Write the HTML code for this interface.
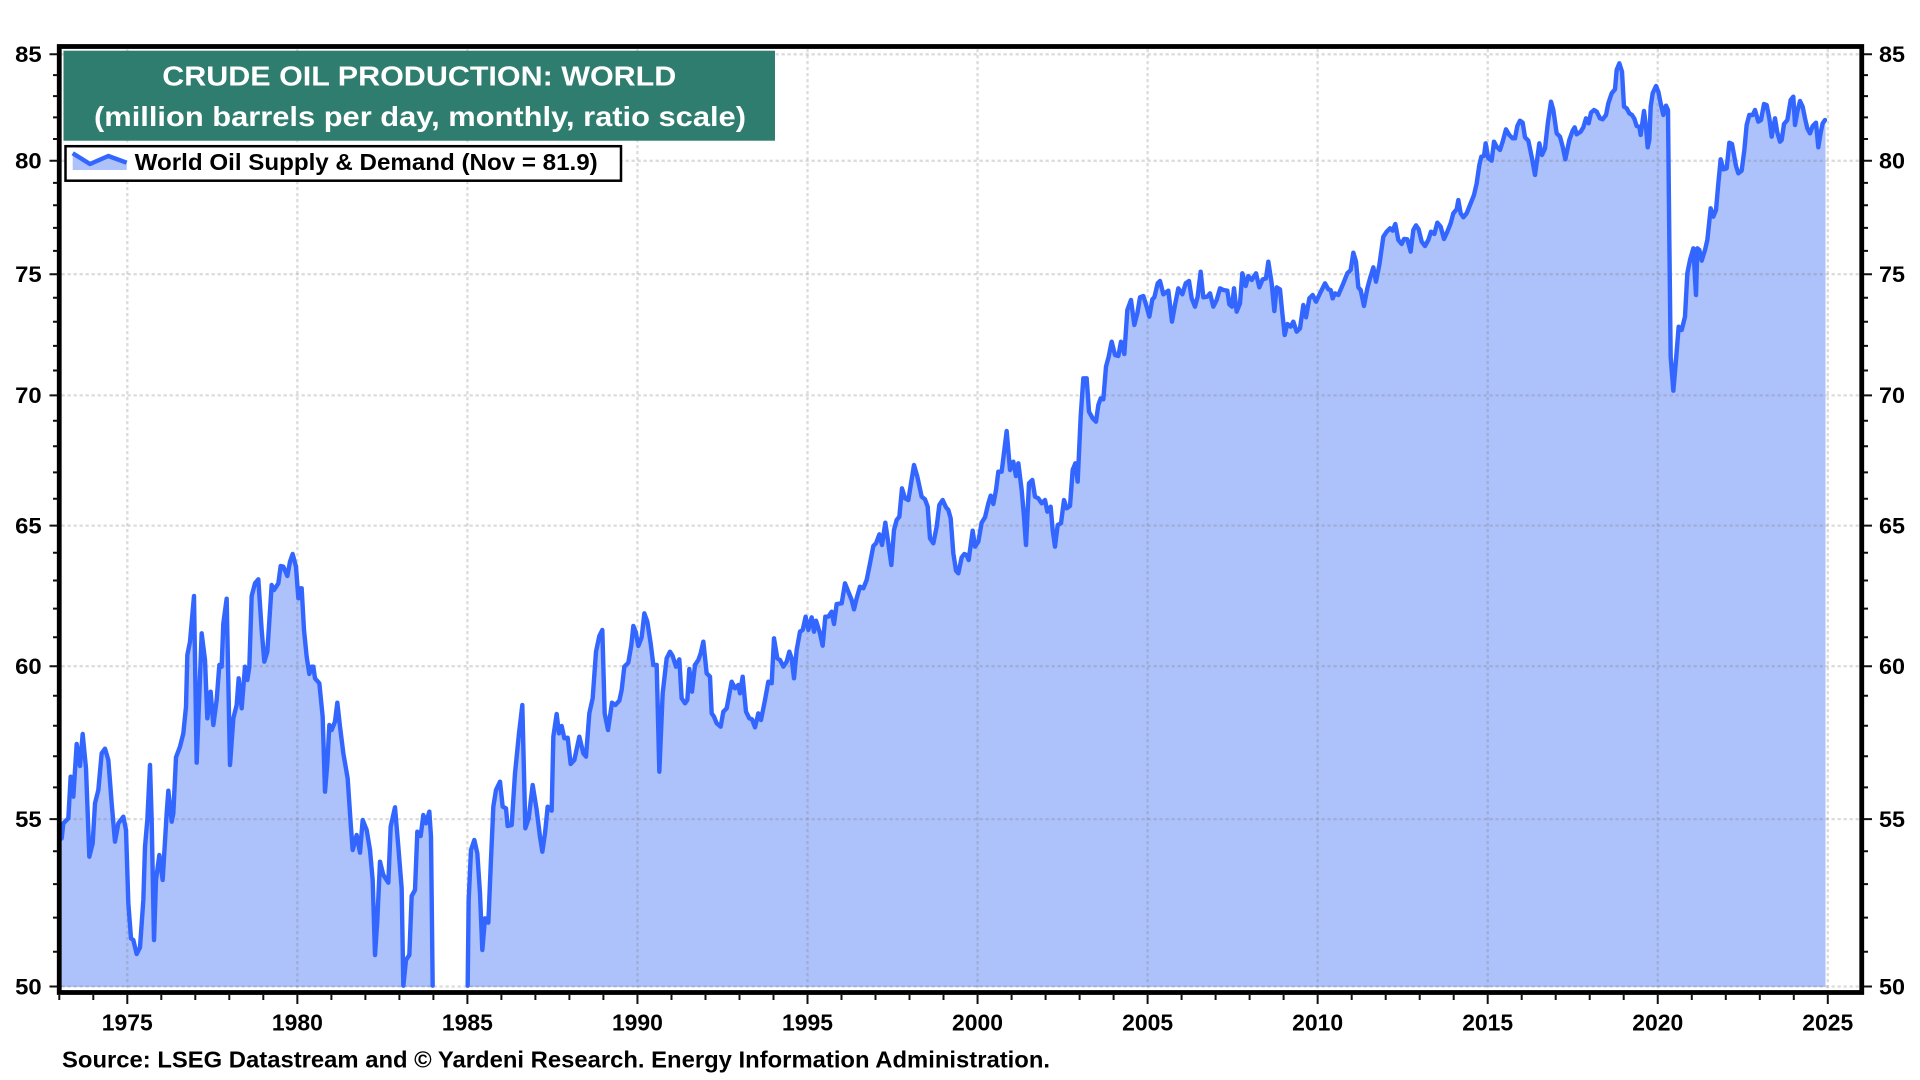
<!DOCTYPE html>
<html>
<head>
<meta charset="utf-8">
<style>
html,body{margin:0;padding:0;background:#fff;}
svg{display:block;}
text{font-family:"Liberation Sans",Arial,sans-serif;font-weight:bold;}
</style>
</head>
<body>
<svg width="1920" height="1080" viewBox="0 0 1920 1080" xmlns="http://www.w3.org/2000/svg">
<rect x="0" y="0" width="1920" height="1080" fill="#fff"/>

<!-- DATA SEGMENTS -->
<g fill="#adc1fb" stroke="#adc1fb" stroke-width="1">
 <g transform="translate(50,520) scale(0.333333)">
  <polygon vector-effect="non-scaling-stroke" points="28,960 35,955 40,910 55,895 62,770 70,830 80,672 90,738 98,642 108,745 118,1010 128,970 135,850 145,810 155,700 165,686 175,720 185,850 195,965 205,910 220,890 228,930 235,1150 243,1255 250,1260 260,1302 270,1282 280,1140 285,980 292,900 300,735 305,900 312,1260 318,1080 328,1005 338,1080 350,880 355,812 365,905 370,880 378,712 390,680 400,640 408,560 412,405 420,365 432,228 440,728 455,340 465,420 472,595 482,515 490,615 500,540 508,435 515,440 520,310 530,236 540,735 550,595 560,555 566,475 575,565 585,440 592,480 598,440 605,228 615,190 625,178 635,330 643,425 652,395 665,195 672,210 685,190 692,138 700,140 712,168 720,125 728,102 738,140 745,235 750,205 755,205 762,330 770,410 778,462 785,440 790,440 795,475 808,490 818,590 825,815 832,730 838,615 845,630 855,605 862,548 870,620 880,700 893,775 902,910 908,990 920,945 930,998 938,900 950,930 960,990 960,1399.5 28,1399.5"/>
 </g>
 <g transform="translate(370,560) scale(0.333333)">
  <polygon vector-effect="non-scaling-stroke" points="0,870 8,960 15,1185 22,1080 30,905 40,945 55,968 62,800 75,742 85,860 95,985 100,1279.5 108,1200 118,1185 125,1008 135,990 142,815 152,828 160,765 168,790 178,755 183,830 188,1279.5 0,1279.5"/>
  <polygon vector-effect="non-scaling-stroke" points="293,1279.5 296,1020 303,870 313,840 322,880 330,1000 337,1170 345,1075 355,1088 362,920 370,740 378,690 390,665 398,740 408,745 413,798 425,795 435,640 447,520 457,435 466,805 476,775 488,675 500,750 510,830 517,875 525,820 533,740 545,752 550,530 560,462 567,520 575,498 583,535 593,533 602,612 613,600 628,530 640,580 648,590 658,460 668,415 678,275 688,228 697,210 704,460 714,510 726,428 736,435 748,422 755,390 763,320 775,308 784,255 790,198 797,215 805,258 815,232 823,160 832,185 842,250 850,315 860,315 868,635 878,400 890,295 900,275 908,288 918,320 928,298 935,415 945,430 952,420 958,327 966,395 975,315 975,1279.5"/>
 </g>
 <g transform="translate(690,300) scale(0.333333)">
  <polygon vector-effect="non-scaling-stroke" points="15,1095 25,1080 32,1060 40,1025 50,1120 60,1130 65,1240 72,1250 80,1270 92,1280 100,1235 110,1225 125,1145 135,1165 145,1155 150,1180 158,1130 168,1235 178,1255 186,1258 195,1282 205,1240 213,1260 225,1200 235,1145 245,1150 252,1015 262,1075 270,1080 280,1100 290,1085 298,1055 305,1075 312,1135 320,1050 330,995 338,990 347,950 355,990 365,952 372,995 378,962 390,1000 398,1037 406,950 415,950 425,935 432,972 440,912 455,910 465,850 475,875 485,900 492,928 500,895 510,860 520,865 530,840 540,790 550,738 558,730 568,703 576,735 586,668 595,730 604,795 612,690 620,660 628,650 636,565 645,595 655,600 672,495 682,530 695,590 705,598 713,620 720,715 730,730 740,680 748,615 758,600 768,622 775,630 782,655 790,760 798,812 805,820 815,772 823,762 830,765 836,780 848,692 855,740 865,725 875,668 885,652 895,610 902,587 910,612 918,570 925,515 935,515 950,393 960,510 970,485 978,528 978,2059.5 15,2059.5"/>
 </g>
 <g transform="translate(1010,200) scale(0.333333)">
  <polygon vector-effect="non-scaling-stroke" points="18,828 25,790 35,870 42,950 48,1035 57,850 67,840 75,890 85,895 95,910 105,900 112,935 122,920 128,990 135,1040 143,975 153,970 162,900 170,925 180,918 188,810 196,790 203,845 212,650 220,535 230,535 237,635 248,655 258,665 265,615 272,595 280,598 288,500 296,470 305,425 315,465 325,468 333,425 343,462 352,330 363,300 373,375 382,340 390,292 400,288 410,320 418,350 427,298 433,292 443,250 450,243 460,283 475,272 486,365 495,315 505,265 517,283 527,250 537,243 545,295 555,320 563,290 572,215 580,292 592,290 600,280 610,320 620,300 630,265 640,270 652,272 658,313 666,320 672,265 680,335 690,310 697,220 707,258 715,228 725,240 738,220 748,262 758,238 768,235 775,185 785,250 793,333 800,262 810,268 817,340 824,405 832,372 842,380 850,365 860,395 870,385 880,315 888,352 898,295 908,285 918,305 930,280 945,250 955,268 962,270 968,295 968,2359.5 18,2359.5"/>
 </g>
 <g transform="translate(1320,40) scale(0.333333)">
  <polygon vector-effect="non-scaling-stroke" points="38,775 45,760 55,765 70,730 82,700 92,690 100,638 108,665 115,742 122,750 132,798 142,745 150,715 160,682 168,725 178,675 190,590 200,575 210,565 218,572 226,552 235,600 245,612 252,597 262,598 272,635 280,570 288,556 296,568 305,605 315,618 325,600 333,575 343,582 352,548 362,560 372,597 382,575 392,550 400,520 410,508 415,480 422,520 430,532 440,520 450,495 462,465 470,430 478,375 484,350 492,348 497,310 505,355 515,362 522,305 530,320 540,330 548,305 558,268 568,285 578,295 585,295 592,258 600,242 608,248 615,292 625,302 635,350 645,405 658,310 666,345 675,325 684,245 693,185 700,210 710,280 720,290 728,320 736,358 748,300 758,272 764,262 770,283 782,275 790,262 798,235 806,250 813,218 822,210 830,215 840,235 840,2839.5 38,2839.5"/>
 </g>
 <g transform="translate(1600,40) scale(0.333333)">
  <polygon vector-effect="non-scaling-stroke" points="0,235 8,238 18,225 25,190 35,160 45,148 50,90 58,70 66,95 72,200 80,205 88,220 96,225 103,236 110,258 118,260 122,285 132,213 138,260 143,322 148,300 152,200 158,160 168,138 175,155 182,190 190,225 198,197 204,210 208,600 212,950 220,1052 228,960 236,860 245,870 255,830 262,700 270,660 280,625 288,765 292,625 298,630 305,662 315,630 322,600 332,505 340,530 348,510 355,430 362,358 370,388 380,385 388,308 396,312 403,350 408,378 415,400 425,392 433,330 440,255 448,225 458,225 465,210 475,245 483,240 492,192 500,195 508,235 515,290 525,235 532,278 540,305 545,300 552,252 562,240 572,180 580,170 585,255 592,215 600,183 608,200 615,235 622,265 630,280 638,258 648,248 655,322 662,278 668,250 675,240 675,2839.5 0,2839.5"/>
 </g>
</g>

<!-- GRID -->
<g stroke="rgb(120,120,120)" stroke-opacity="0.26" stroke-width="2.3" stroke-dasharray="3.3 2.7" fill="none">
 <path d="M61.5 54.3H1859.5M61.5 160.8H1859.5M61.5 274.2H1859.5M61.5 395.4H1859.5M61.5 525.6H1859.5M61.5 666.2H1859.5M61.5 819.1H1859.5M61.5 986.5H1859.5"/>
 <path d="M127.3 49V990M297.35 49V990M467.4 49V990M637.45 49V990M807.5 49V990M977.55 49V990M1147.6 49V990M1317.65 49V990M1487.7 49V990M1657.75 49V990M1827.8 49V990"/>
</g>

<!-- SERIES LINE -->
<g fill="none" stroke="#3366ff" stroke-width="4.4" stroke-linejoin="round" stroke-linecap="round">
 <g transform="translate(50,520) scale(0.333333)">
  <polyline vector-effect="non-scaling-stroke" points="28,960 35,955 40,910 55,895 62,770 70,830 80,672 90,738 98,642 108,745 118,1010 128,970 135,850 145,810 155,700 165,686 175,720 185,850 195,965 205,910 220,890 228,930 235,1150 243,1255 250,1260 260,1302 270,1282 280,1140 285,980 292,900 300,735 305,900 312,1260 318,1080 328,1005 338,1080 350,880 355,812 365,905 370,880 378,712 390,680 400,640 408,560 412,405 420,365 432,228 440,728 455,340 465,420 472,595 482,515 490,615 500,540 508,435 515,440 520,310 530,236 540,735 550,595 560,555 566,475 575,565 585,440 592,480 598,440 605,228 615,190 625,178 635,330 643,425 652,395 665,195 672,210 685,190 692,138 700,140 712,168 720,125 728,102 738,140 745,235 750,205 755,205 762,330 770,410 778,462 785,440 790,440 795,475 808,490 818,590 825,815 832,730 838,615 845,630 855,605 862,548 870,620 880,700 893,775 902,910 908,990 920,945 930,998 938,900 950,930 960,990"/>
 </g>
 <g transform="translate(370,560) scale(0.333333)">
  <polyline vector-effect="non-scaling-stroke" points="0,870 8,960 15,1185 22,1080 30,905 40,945 55,968 62,800 75,742 85,860 95,985 100,1277 108,1200 118,1185 125,1008 135,990 142,815 152,828 160,765 168,790 178,755 183,830 188,1277"/>
  <polyline vector-effect="non-scaling-stroke" points="293,1277 296,1020 303,870 313,840 322,880 330,1000 337,1170 345,1075 355,1088 362,920 370,740 378,690 390,665 398,740 408,745 413,798 425,795 435,640 447,520 457,435 466,805 476,775 488,675 500,750 510,830 517,875 525,820 533,740 545,752 550,530 560,462 567,520 575,498 583,535 593,533 602,612 613,600 628,530 640,580 648,590 658,460 668,415 678,275 688,228 697,210 704,460 714,510 726,428 736,435 748,422 755,390 763,320 775,308 784,255 790,198 797,215 805,258 815,232 823,160 832,185 842,250 850,315 860,315 868,635 878,400 890,295 900,275 908,288 918,320 928,298 935,415 945,430 952,420 958,327 966,395 975,315"/>
 </g>
 <g transform="translate(690,300) scale(0.333333)">
  <polyline vector-effect="non-scaling-stroke" points="15,1095 25,1080 32,1060 40,1025 50,1120 60,1130 65,1240 72,1250 80,1270 92,1280 100,1235 110,1225 125,1145 135,1165 145,1155 150,1180 158,1130 168,1235 178,1255 186,1258 195,1282 205,1240 213,1260 225,1200 235,1145 245,1150 252,1015 262,1075 270,1080 280,1100 290,1085 298,1055 305,1075 312,1135 320,1050 330,995 338,990 347,950 355,990 365,952 372,995 378,962 390,1000 398,1037 406,950 415,950 425,935 432,972 440,912 455,910 465,850 475,875 485,900 492,928 500,895 510,860 520,865 530,840 540,790 550,738 558,730 568,703 576,735 586,668 595,730 604,795 612,690 620,660 628,650 636,565 645,595 655,600 672,495 682,530 695,590 705,598 713,620 720,715 730,730 740,680 748,615 758,600 768,622 775,630 782,655 790,760 798,812 805,820 815,772 823,762 830,765 836,780 848,692 855,740 865,725 875,668 885,652 895,610 902,587 910,612 918,570 925,515 935,515 950,393 960,510 970,485 978,528"/>
 </g>
 <g transform="translate(1010,200) scale(0.333333)">
  <polyline vector-effect="non-scaling-stroke" points="18,828 25,790 35,870 42,950 48,1035 57,850 67,840 75,890 85,895 95,910 105,900 112,935 122,920 128,990 135,1040 143,975 153,970 162,900 170,925 180,918 188,810 196,790 203,845 212,650 220,535 230,535 237,635 248,655 258,665 265,615 272,595 280,598 288,500 296,470 305,425 315,465 325,468 333,425 343,462 352,330 363,300 373,375 382,340 390,292 400,288 410,320 418,350 427,298 433,292 443,250 450,243 460,283 475,272 486,365 495,315 505,265 517,283 527,250 537,243 545,295 555,320 563,290 572,215 580,292 592,290 600,280 610,320 620,300 630,265 640,270 652,272 658,313 666,320 672,265 680,335 690,310 697,220 707,258 715,228 725,240 738,220 748,262 758,238 768,235 775,185 785,250 793,333 800,262 810,268 817,340 824,405 832,372 842,380 850,365 860,395 870,385 880,315 888,352 898,295 908,285 918,305 930,280 945,250 955,268 962,270 968,295"/>
 </g>
 <g transform="translate(1320,40) scale(0.333333)">
  <polyline vector-effect="non-scaling-stroke" points="38,775 45,760 55,765 70,730 82,700 92,690 100,638 108,665 115,742 122,750 132,798 142,745 150,715 160,682 168,725 178,675 190,590 200,575 210,565 218,572 226,552 235,600 245,612 252,597 262,598 272,635 280,570 288,556 296,568 305,605 315,618 325,600 333,575 343,582 352,548 362,560 372,597 382,575 392,550 400,520 410,508 415,480 422,520 430,532 440,520 450,495 462,465 470,430 478,375 484,350 492,348 497,310 505,355 515,362 522,305 530,320 540,330 548,305 558,268 568,285 578,295 585,295 592,258 600,242 608,248 615,292 625,302 635,350 645,405 658,310 666,345 675,325 684,245 693,185 700,210 710,280 720,290 728,320 736,358 748,300 758,272 764,262 770,283 782,275 790,262 798,235 806,250 813,218 822,210 830,215 840,235"/>
 </g>
 <g transform="translate(1600,40) scale(0.333333)">
  <polyline vector-effect="non-scaling-stroke" points="0,235 8,238 18,225 25,190 35,160 45,148 50,90 58,70 66,95 72,200 80,205 88,220 96,225 103,236 110,258 118,260 122,285 132,213 138,260 143,322 148,300 152,200 158,160 168,138 175,155 182,190 190,225 198,197 204,210 208,600 212,950 220,1052 228,960 236,860 245,870 255,830 262,700 270,660 280,625 288,765 292,625 298,630 305,662 315,630 322,600 332,505 340,530 348,510 355,430 362,358 370,388 380,385 388,308 396,312 403,350 408,378 415,400 425,392 433,330 440,255 448,225 458,225 465,210 475,245 483,240 492,192 500,195 508,235 515,290 525,235 532,278 540,305 545,300 552,252 562,240 572,180 580,170 585,255 592,215 600,183 608,200 615,235 622,265 630,280 638,258 648,248 655,322 662,278 668,250 675,240"/>
 </g>
</g>

<!-- FRAME -->
<rect x="59.25" y="46.5" width="1802.5" height="946" fill="none" stroke="#000" stroke-width="4.8"/>

<!-- Y TICKS -->
<g stroke="#111" stroke-width="2">
 <path d="M49.5 54.3H57.5M49.5 160.8H57.5M49.5 274.2H57.5M49.5 395.4H57.5M49.5 525.6H57.5M49.5 666.2H57.5M49.5 819.1H57.5M49.5 986.5H57.5"/>
 <path d="M53 75.1H57.5M53 96.1H57.5M53 117.4H57.5M53 139H57.5M53 182.9H57.5M53 205.3H57.5M53 227.9H57.5M53 250.9H57.5M53 297.8H57.5M53 321.7H57.5M53 345.9H57.5M53 370.5H57.5M53 420.7H57.5M53 446.3H57.5M53 472.4H57.5M53 498.8H57.5M53 552.8H57.5M53 580.5H57.5M53 608.6H57.5M53 637.2H57.5M53 695.7H57.5M53 725.8H57.5M53 756.3H57.5M53 787.4H57.5M53 851.3H57.5M53 884.1H57.5M53 917.6H57.5M53 951.7H57.5"/>
 <path d="M1864 54.3H1872M1864 160.8H1872M1864 274.2H1872M1864 395.4H1872M1864 525.6H1872M1864 666.2H1872M1864 819.1H1872M1864 986.5H1872"/>
 <path d="M1864 75.1H1868M1864 96.1H1868M1864 117.4H1868M1864 139H1868M1864 182.9H1868M1864 205.3H1868M1864 227.9H1868M1864 250.9H1868M1864 297.8H1868M1864 321.7H1868M1864 345.9H1868M1864 370.5H1868M1864 420.7H1868M1864 446.3H1868M1864 472.4H1868M1864 498.8H1868M1864 552.8H1868M1864 580.5H1868M1864 608.6H1868M1864 637.2H1868M1864 695.7H1868M1864 725.8H1868M1864 756.3H1868M1864 787.4H1868M1864 851.3H1868M1864 884.1H1868M1864 917.6H1868M1864 951.7H1868"/>
</g>

<!-- X TICKS -->
<g stroke="#111" stroke-width="2">
 <path d="M127.3 995v9M297.35 995v9M467.4 995v9M637.45 995v9M807.5 995v9M977.55 995v9M1147.6 995v9M1317.65 995v9M1487.7 995v9M1657.75 995v9M1827.8 995v9"/>
 <path d="M59.3 995v5M93.3 995v5M161.3 995v5M195.3 995v5M229.3 995v5M263.3 995v5M331.4 995v5M365.4 995v5M399.4 995v5M433.4 995v5M501.4 995v5M535.4 995v5M569.4 995v5M603.4 995v5M671.5 995v5M705.5 995v5M739.5 995v5M773.5 995v5M841.5 995v5M875.5 995v5M909.5 995v5M943.5 995v5M1011.6 995v5M1045.6 995v5M1079.6 995v5M1113.6 995v5M1181.6 995v5M1215.6 995v5M1249.6 995v5M1283.6 995v5M1351.7 995v5M1385.7 995v5M1419.7 995v5M1453.7 995v5M1521.7 995v5M1555.7 995v5M1589.7 995v5M1623.7 995v5M1691.8 995v5M1725.8 995v5M1759.8 995v5M1793.8 995v5"/>
</g>

<!-- Y LABELS -->
<g font-size="22" fill="#000" text-anchor="end">
 <text x="41.7" y="62" textLength="26.5" lengthAdjust="spacingAndGlyphs">85</text>
 <text x="41.7" y="168.5" textLength="26.5" lengthAdjust="spacingAndGlyphs">80</text>
 <text x="41.7" y="282" textLength="26.5" lengthAdjust="spacingAndGlyphs">75</text>
 <text x="41.7" y="403.2" textLength="26.5" lengthAdjust="spacingAndGlyphs">70</text>
 <text x="41.7" y="533.4" textLength="26.5" lengthAdjust="spacingAndGlyphs">65</text>
 <text x="41.7" y="674" textLength="26.5" lengthAdjust="spacingAndGlyphs">60</text>
 <text x="41.7" y="826.9" textLength="26.5" lengthAdjust="spacingAndGlyphs">55</text>
 <text x="41.7" y="994.3" textLength="26.5" lengthAdjust="spacingAndGlyphs">50</text>
</g>
<g font-size="22" fill="#000" text-anchor="start">
 <text x="1879" y="62" textLength="26" lengthAdjust="spacingAndGlyphs">85</text>
 <text x="1879" y="168.5" textLength="26" lengthAdjust="spacingAndGlyphs">80</text>
 <text x="1879" y="282" textLength="26" lengthAdjust="spacingAndGlyphs">75</text>
 <text x="1879" y="403.2" textLength="26" lengthAdjust="spacingAndGlyphs">70</text>
 <text x="1879" y="533.4" textLength="26" lengthAdjust="spacingAndGlyphs">65</text>
 <text x="1879" y="674" textLength="26" lengthAdjust="spacingAndGlyphs">60</text>
 <text x="1879" y="826.9" textLength="26" lengthAdjust="spacingAndGlyphs">55</text>
 <text x="1879" y="994.3" textLength="26" lengthAdjust="spacingAndGlyphs">50</text>
</g>

<!-- X LABELS -->
<g font-size="23" fill="#000" text-anchor="middle">
 <text x="127.3" y="1030.5" textLength="51" lengthAdjust="spacingAndGlyphs">1975</text>
 <text x="297.35" y="1030.5" textLength="51" lengthAdjust="spacingAndGlyphs">1980</text>
 <text x="467.4" y="1030.5" textLength="51" lengthAdjust="spacingAndGlyphs">1985</text>
 <text x="637.45" y="1030.5" textLength="51" lengthAdjust="spacingAndGlyphs">1990</text>
 <text x="807.5" y="1030.5" textLength="51" lengthAdjust="spacingAndGlyphs">1995</text>
 <text x="977.55" y="1030.5" textLength="51" lengthAdjust="spacingAndGlyphs">2000</text>
 <text x="1147.6" y="1030.5" textLength="51" lengthAdjust="spacingAndGlyphs">2005</text>
 <text x="1317.65" y="1030.5" textLength="51" lengthAdjust="spacingAndGlyphs">2010</text>
 <text x="1487.7" y="1030.5" textLength="51" lengthAdjust="spacingAndGlyphs">2015</text>
 <text x="1657.75" y="1030.5" textLength="51" lengthAdjust="spacingAndGlyphs">2020</text>
 <text x="1827.8" y="1030.5" textLength="51" lengthAdjust="spacingAndGlyphs">2025</text>
</g>

<!-- TITLE BOX -->
<rect x="63.5" y="50.7" width="711.5" height="90" fill="#2f7d6e"/>
<g fill="#fff" font-size="28" text-anchor="middle">
 <text x="419.3" y="85.5" textLength="514" lengthAdjust="spacingAndGlyphs">CRUDE OIL PRODUCTION: WORLD</text>
 <text x="420" y="126" textLength="652" lengthAdjust="spacingAndGlyphs">(million barrels per day, monthly, ratio scale)</text>
</g>

<!-- LEGEND -->
<rect x="65.5" y="146.2" width="555.5" height="34.5" fill="#fff" stroke="#000" stroke-width="2.5"/>
<polygon points="72.7,153.3 90,164 108.3,156 126.7,162.7 126.7,170 72.7,170" fill="#adc1fb"/>
<polyline points="72.7,153.3 90,164 108.3,156 126.7,162.7" fill="none" stroke="#3366ff" stroke-width="4.4" stroke-linejoin="round"/>
<text x="134.7" y="170" font-size="23" fill="#000" textLength="463" lengthAdjust="spacingAndGlyphs">World Oil Supply &amp; Demand (Nov = 81.9)</text>

<!-- SOURCE -->
<text x="62" y="1067.5" font-size="23" fill="#000" textLength="988" lengthAdjust="spacingAndGlyphs">Source: LSEG Datastream and © Yardeni Research. Energy Information Administration.</text>
</svg>
</body>
</html>
